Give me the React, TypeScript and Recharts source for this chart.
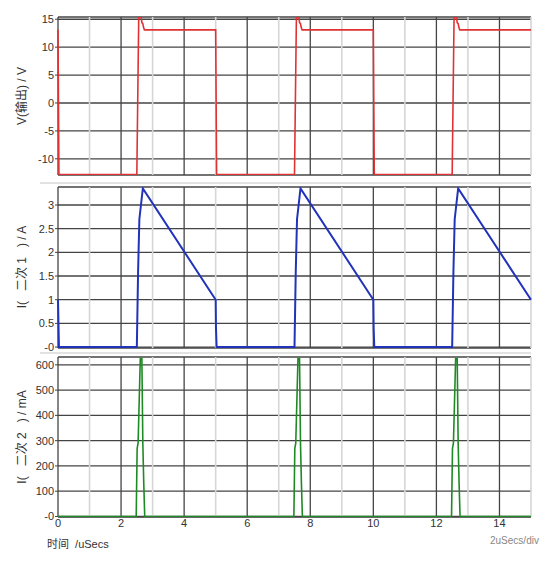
import { LineChart, Line, XAxis, YAxis, CartesianGrid, ReferenceLine } from 'recharts';

// time axis (uSecs)
const GRID_X = [0, 1, 2, 3, 4, 5, 6, 7, 8, 9, 10, 11, 12, 13, 14, 15];
const X_TICKS = [0, 2, 4, 6, 8, 10, 12, 14];

// V(输出) / V
const V_TICKS = [-10, -5, 0, 5, 10, 15];
const vOutT = [0, 0.03, 2.5, 2.56, 2.64, 2.66, 2.69, 2.71, 2.74, 5.0, 5.03, 7.5, 7.56, 7.64, 7.66, 7.69, 7.71, 7.74, 10.0, 10.03, 12.5, 12.56, 12.64, 12.66, 12.69, 12.71, 12.74, 15];
const vOutV = [13.1, -12.8, -12.8, 15.3, 15.3, 14.4, 14.2, 13.6, 13.1, 13.1, -12.8, -12.8, 15.3, 15.3, 14.4, 14.2, 13.6, 13.1, 13.1, -12.8, -12.8, 15.3, 15.3, 14.4, 14.2, 13.6, 13.1, 13.1];

// I(二次1) / A
const I1_TICKS = [0, 0.5, 1, 1.5, 2, 2.5, 3];
const i1T = [0, 0.03, 2.5, 2.54, 2.58, 2.69, 5.0, 5.01, 5.03, 7.5, 7.54, 7.58, 7.69, 10.0, 10.01, 10.03, 12.5, 12.54, 12.58, 12.69, 15];
const i1V = [1.0, 0, 0, 1.6, 2.7, 3.35, 1.0, 0.4, 0, 0, 1.6, 2.7, 3.35, 1.0, 0.4, 0, 0, 1.6, 2.7, 3.35, 1.0];

// I(二次2) / mA
const I2_TICKS = [0, 100, 200, 300, 400, 500, 600];
const i2T = [0, 2.48, 2.51, 2.54, 2.61, 2.66, 2.69, 2.72, 2.75, 7.48, 7.51, 7.54, 7.61, 7.66, 7.69, 7.72, 7.75, 12.48, 12.51, 12.54, 12.61, 12.66, 12.69, 12.72, 12.75, 15];
const i2V = [0, 0, 270, 290, 625, 625, 290, 130, 0, 0, 270, 290, 625, 625, 290, 130, 0, 0, 270, 290, 625, 625, 290, 130, 0, 0];

const toPoints = (ts: number[], vs: number[]) => ts.map((t, i) => ({ t, v: vs[i] }));

const FONT = '"Liberation Sans", Arial, "Noto Sans CJK SC", sans-serif';
const tickStyle = { fontSize: 11, fill: '#333', fontFamily: FONT };
const zeroFmt = (v: number) => (v === 0 ? '-0' : String(v));

function gridLines() {
  return GRID_X.map((x) => (
    <ReferenceLine
      key={x}
      x={x}
      stroke={x % 2 === 0 ? '#444' : '#d6d6d6'}
      strokeWidth={x % 2 === 0 ? 1.3 : 1.6}
    />
  ));
}

function YLabel({ top, text }: { top: number; text: string }) {
  return (
    <div
      style={{
        position: 'absolute',
        left: 20,
        top,
        transform: 'translate(-50%, -50%) rotate(-90deg)',
        whiteSpace: 'pre',
        fontSize: 12,
        color: '#333',
        fontFamily: FONT,
      }}
    >
      {text}
    </div>
  );
}

export default function App() {
  return (
    <div
      style={{
        position: 'absolute',
        left: 0,
        top: 0,
        width: 552,
        height: 561,
        background: '#fff',
        overflow: 'hidden',
      }}
    >
      <div style={{ position: 'absolute', left: 0, top: 0 }}>
        <LineChart width={552} height={183} margin={{ top: 17, right: 21, bottom: 8, left: 0 }}>
          <CartesianGrid vertical={false} stroke="#444" strokeWidth={1.3} />
          <XAxis dataKey="t" type="number" domain={[0, 15]} ticks={GRID_X} hide />
          <YAxis
            type="number"
            domain={[-12.9, 15.4]}
            ticks={V_TICKS}
            interval={0}
            allowDataOverflow
            width={58}
            tick={tickStyle}
            tickSize={3}
            tickMargin={1}
            axisLine={false}
            tickLine={{ stroke: '#444' }}
          />
          {gridLines()}
          <Line
            data={toPoints(vOutT, vOutV)}
            dataKey="v"
            type="linear"
            stroke="#e03234"
            strokeWidth={1.6}
            dot={false}
            isAnimationActive={false}
          />
        </LineChart>
      </div>

      <div style={{ position: 'absolute', left: 0, top: 183 }}>
        <LineChart width={552} height={170} margin={{ top: 4, right: 21, bottom: 5, left: 0 }}>
          <CartesianGrid vertical={false} stroke="#444" strokeWidth={1.3} />
          <XAxis dataKey="t" type="number" domain={[0, 15]} ticks={GRID_X} hide />
          <YAxis
            type="number"
            domain={[-0.02, 3.38]}
            ticks={I1_TICKS}
            interval={0}
            tickFormatter={zeroFmt}
            allowDataOverflow
            width={58}
            tick={tickStyle}
            tickSize={3}
            tickMargin={1}
            axisLine={false}
            tickLine={{ stroke: '#444' }}
          />
          {gridLines()}
          <Line
            data={toPoints(i1T, i1V)}
            dataKey="v"
            type="linear"
            stroke="#2233bb"
            strokeWidth={2}
            dot={false}
            isAnimationActive={false}
          />
        </LineChart>
      </div>

      <div style={{ position: 'absolute', left: 0, top: 353 }}>
        <LineChart width={552} height={208} margin={{ top: 4, right: 21, bottom: 24, left: 0 }}>
          <CartesianGrid vertical={false} stroke="#444" strokeWidth={1.3} />
          <XAxis
            dataKey="t"
            type="number"
            domain={[0, 15]}
            ticks={X_TICKS}
            interval={0}
            height={20}
            tick={tickStyle}
            tickLine={false}
            tickSize={0}
            axisLine={false}
            tickMargin={2}
          />
          <YAxis
            type="number"
            domain={[-2, 631]}
            ticks={I2_TICKS}
            interval={0}
            tickFormatter={zeroFmt}
            allowDataOverflow
            width={58}
            tick={tickStyle}
            tickSize={3}
            tickMargin={1}
            axisLine={false}
            tickLine={{ stroke: '#444' }}
          />
          {gridLines()}
          <Line
            data={toPoints(i2T, i2V)}
            dataKey="v"
            type="linear"
            stroke="#1f8a24"
            strokeWidth={1.6}
            dot={false}
            isAnimationActive={false}
          />
        </LineChart>
      </div>

      <div style={{ position: 'absolute', left: 40, top: 182, width: 491, height: 2, background: '#e2e2e2' }} />
      <div style={{ position: 'absolute', left: 40, top: 352, width: 491, height: 2, background: '#e2e2e2' }} />

      <YLabel top={96} text="V(输出) / V" />
      <YLabel top={267} text="I(   二次 1   ) / A" />
      <YLabel top={437} text="I(   二次 2   ) / mA" />

      <div
        style={{
          position: 'absolute',
          left: 47,
          top: 535,
          fontSize: 11,
          color: '#333',
          fontFamily: FONT,
          whiteSpace: 'pre',
        }}
      >
        {'时间  /uSecs'}
      </div>
      <div
        style={{
          position: 'absolute',
          left: 490,
          top: 535,
          fontSize: 10,
          color: '#888',
          fontFamily: FONT,
        }}
      >
        2uSecs/div
      </div>
    </div>
  );
}
